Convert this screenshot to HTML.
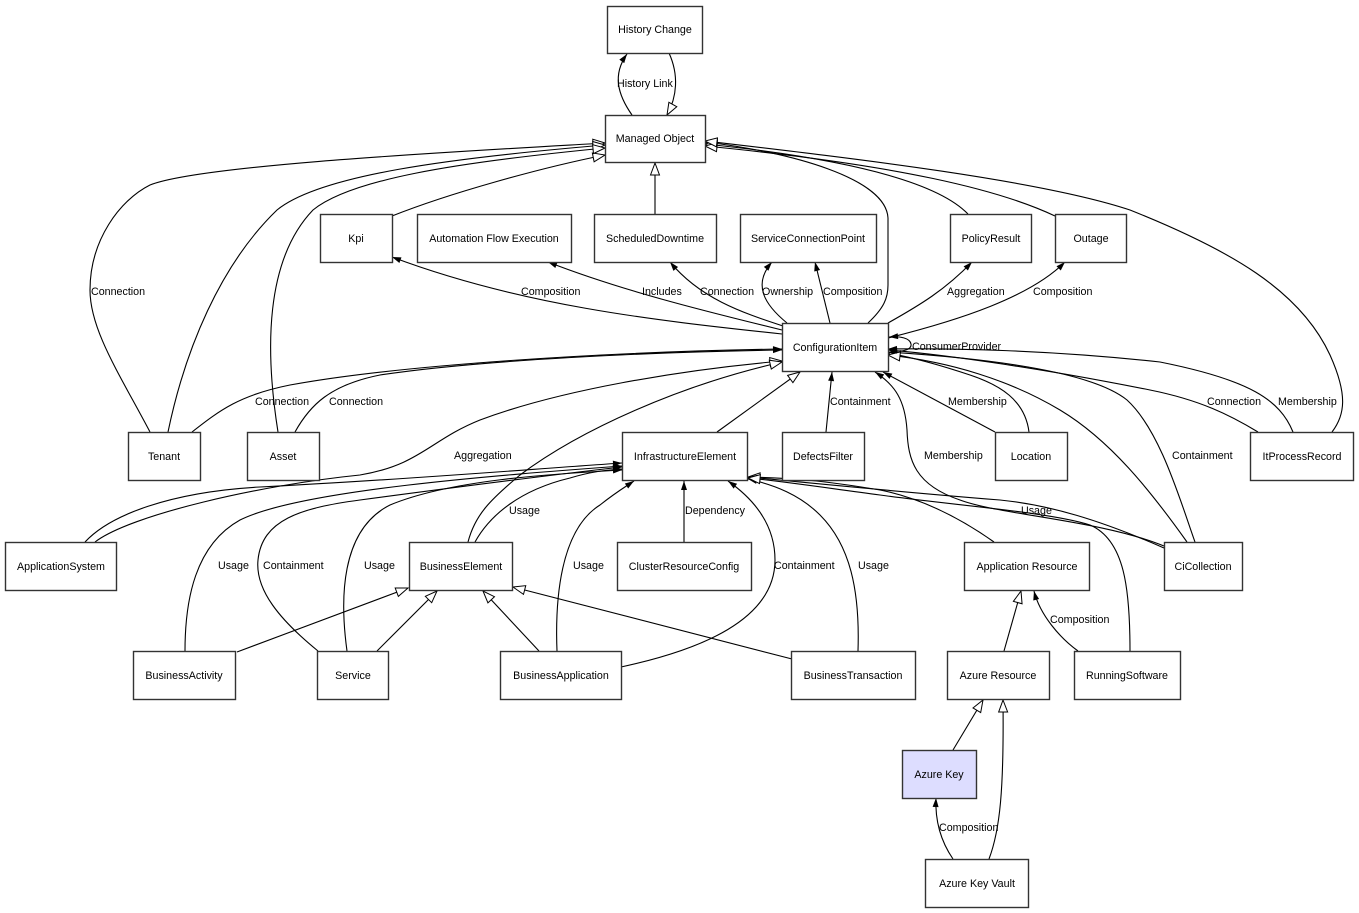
<!DOCTYPE html>
<html><head><meta charset="utf-8"><style>
html,body{margin:0;padding:0;background:#fff;}
svg{display:block;}
text{font-family:"Liberation Sans",Arial,sans-serif;font-size:10.7px;fill:#000;}
.n{text-anchor:middle;}
.b{fill:#fff;stroke:#333;stroke-width:1.4;}
.e{fill:none;stroke:#000;stroke-width:1.1;}
</style></head><body>
<svg width="1359" height="913" viewBox="0 0 1359 913" xmlns="http://www.w3.org/2000/svg">
<defs>
<marker id="f" markerWidth="10" markerHeight="8" refX="9" refY="4" orient="auto" markerUnits="userSpaceOnUse" style="overflow:visible"><path d="M0,1 L9,4 L0,7 z" fill="#000"/></marker>
<marker id="h" markerWidth="14" markerHeight="11" refX="13" refY="5.5" orient="auto" markerUnits="userSpaceOnUse" style="overflow:visible"><path d="M1,1 L13,5.5 L1,10 z" fill="#fff" stroke="#000" stroke-width="1"/></marker>
</defs>
<rect width="1359" height="913" fill="#fff"/>

<!-- edges to Managed Object -->
<path class="e" marker-end="url(#f)" d="M632,115 C618,95 612,75 627,54"/>
<path class="e" marker-end="url(#h)" d="M669,53 C679,75 677,97 667,115"/>
<path class="e" marker-end="url(#h)" d="M655,214 L655,163"/>
<path class="e" marker-end="url(#h)" d="M392,216 C450,193 540,168 605,155"/>
<path class="e" marker-end="url(#h)" d="M150,432 C120,375 90,330 90,290 C90,240 120,200 150,185 C200,165 450,152 605,143"/>
<path class="e" marker-end="url(#h)" d="M168,432 C185,350 220,265 277,210 C320,175 450,158 605,145"/>
<path class="e" marker-end="url(#h)" d="M278,432 C265,350 265,260 313,210 C350,180 450,163 605,148"/>
<path class="e" marker-end="url(#h)" d="M868,323 C884,308 888,298 888,285 L888,218 C886,178 790,152 705,142"/>
<path class="e" marker-end="url(#h)" d="M968,214 C940,185 860,160 705,144"/>
<path class="e" marker-end="url(#h)" d="M1055,216 C1000,190 900,165 705,146"/>
<path class="e" marker-end="url(#h)" d="M1332,432 C1345,415 1348,395 1330,355 C1300,290 1230,250 1130,210 C1040,180 850,158 705,141"/>

<!-- CI outgoing -->
<path class="e" marker-end="url(#f)" d="M782,334 C650,320 520,305 392,257"/>
<path class="e" marker-end="url(#f)" d="M782,330 C700,310 620,290 548,262"/>
<path class="e" marker-end="url(#f)" d="M783,326 C740,312 700,298 670,262"/>
<path class="e" marker-end="url(#f)" d="M787,323 C765,305 752,285 772,262"/>
<path class="e" marker-end="url(#f)" d="M830,323 L815,262"/>
<path class="e" marker-end="url(#f)" d="M888,323 C920,305 945,290 972,262"/>
<path class="e" marker-end="url(#f)" d="M888,338 C960,320 1030,297 1065,262"/>
<path class="e" marker-end="url(#f)" d="M888,352 C905,352 912,349 911,344 C910,338 900,336 889,337"/>

<!-- CI incoming -->
<path class="e" marker-end="url(#f)" d="M192,432 C220,410 240,395 290,385 C400,365 600,352 782,349"/>
<path class="e" marker-end="url(#f)" d="M295,432 C310,405 330,385 380,375 C480,360 650,352 782,350"/>
<path class="e" marker-end="url(#h)" d="M95,542 C130,515 260,485 360,475 C420,465 430,440 480,420 C560,390 680,370 782,361"/>
<path class="e" marker-end="url(#h)" d="M468,542 C475,515 490,500 520,475 C580,430 680,385 782,362"/>
<path class="e" marker-end="url(#h)" d="M717,432 L800,372"/>
<path class="e" marker-end="url(#f)" d="M826,432 L832,372"/>
<path class="e" marker-end="url(#f)" d="M995,432 L883,372"/>
<path class="e" marker-end="url(#h)" d="M1029,432 C1025,400 1000,385 970,375 C940,365 910,357 888,353"/>
<path class="e" marker-end="url(#f)" d="M1164,546 C1100,520 1000,515 960,500 C915,485 908,460 907,430 C905,400 895,385 875,372"/>
<path class="e" marker-end="url(#f)" d="M1195,542 C1180,500 1160,430 1127,400 C1090,370 980,358 888,352"/>
<path class="e" marker-end="url(#h)" d="M1187,542 C1150,490 1110,440 1060,410 C1010,380 950,362 888,355"/>
<path class="e" marker-end="url(#f)" d="M1258,432 C1230,415 1200,400 1150,390 C1050,370 950,355 888,350"/>
<path class="e" marker-end="url(#f)" d="M1293,432 C1280,400 1250,380 1160,362 C1050,350 950,348 888,349"/>

<!-- IE incoming -->
<path class="e" marker-end="url(#f)" d="M85,542 C110,515 170,492 260,487 C400,480 520,470 622,463"/>
<path class="e" marker-end="url(#f)" d="M185,651 C185,600 195,545 240,520 C300,490 500,475 622,466"/>
<path class="e" marker-end="url(#f)" d="M318,651 C280,620 255,590 258,560 C262,520 300,508 360,500 C450,488 550,475 622,467"/>
<path class="e" marker-end="url(#f)" d="M347,651 C340,600 340,530 390,505 C450,480 550,474 622,470"/>
<path class="e" marker-end="url(#f)" d="M475,542 C490,515 520,490 570,478 C590,472 605,470 622,469"/>
<path class="e" marker-end="url(#f)" d="M557,651 C555,600 560,530 600,505 C615,493 625,487 634,481"/>
<path class="e" marker-end="url(#f)" d="M684,542 L684,481"/>
<path class="e" marker-end="url(#f)" d="M621,667 C700,650 775,620 775,560 C775,525 755,500 728,481"/>
<path class="e" marker-end="url(#f)" d="M858,651 C860,590 850,545 820,515 C800,495 775,485 748,479"/>
<path class="e" marker-end="url(#h)" d="M994,542 C970,525 930,500 880,490 C820,480 790,478 748,477"/>
<path class="e" marker-end="url(#f)" d="M1164,548 C1100,520 1050,505 1000,500 C900,492 800,482 748,477"/>
<path class="e" marker-end="url(#h)" d="M1130,651 C1130,590 1125,540 1090,525 C1050,512 950,505 880,495 C820,487 780,481 748,478"/>

<!-- others -->
<path class="e" marker-end="url(#h)" d="M1004,651 L1021,591"/>
<path class="e" marker-end="url(#f)" d="M1078,651 C1060,638 1040,615 1034,591"/>
<path class="e" marker-end="url(#h)" d="M953,750 L983,700"/>
<path class="e" marker-end="url(#h)" d="M989,859 C1000,830 1004,790 1003,700"/>
<path class="e" marker-end="url(#f)" d="M953,859 C940,840 935,820 936,798"/>
<path class="e" marker-end="url(#h)" d="M237,652 L408,588"/>
<path class="e" marker-end="url(#h)" d="M377,651 L437,591"/>
<path class="e" marker-end="url(#h)" d="M539,651 L483,591"/>
<path class="e" marker-end="url(#h)" d="M792,659 L513,587"/>

<!-- edge labels -->
<text x="617" y="87">History Link</text>
<text x="91" y="295">Connection</text>
<text x="521" y="295">Composition</text>
<text x="642" y="295">Includes</text>
<text x="700" y="295">Connection</text>
<text x="762" y="295">Ownership</text>
<text x="823" y="295">Composition</text>
<text x="947" y="295">Aggregation</text>
<text x="1033" y="295">Composition</text>
<text x="912" y="350">ConsumerProvider</text>
<text x="255" y="405">Connection</text>
<text x="329" y="405">Connection</text>
<text x="830" y="405">Containment</text>
<text x="948" y="405">Membership</text>
<text x="1207" y="405">Connection</text>
<text x="1278" y="405">Membership</text>
<text x="454" y="459">Aggregation</text>
<text x="924" y="459">Membership</text>
<text x="1172" y="459">Containment</text>
<text x="509" y="514">Usage</text>
<text x="685" y="514">Dependency</text>
<text x="1021" y="514">Usage</text>
<text x="218" y="569">Usage</text>
<text x="263" y="569">Containment</text>
<text x="364" y="569">Usage</text>
<text x="573" y="569">Usage</text>
<text x="774" y="569">Containment</text>
<text x="858" y="569">Usage</text>
<text x="1050" y="623">Composition</text>
<text x="939" y="831">Composition</text>

<!-- nodes -->
<rect class="b" x="607.5" y="6.5" width="95" height="47"/><text class="n" x="655" y="33">History Change</text>
<rect class="b" x="605.5" y="115.5" width="100" height="47"/><text class="n" x="655" y="142">Managed Object</text>
<rect class="b" x="320.5" y="214.5" width="72" height="48"/><text class="n" x="356" y="242">Kpi</text>
<rect class="b" x="417.5" y="214.5" width="154" height="48"/><text class="n" x="494" y="242">Automation Flow Execution</text>
<rect class="b" x="594.5" y="214.5" width="122" height="48"/><text class="n" x="655" y="242">ScheduledDowntime</text>
<rect class="b" x="740.5" y="214.5" width="136" height="48"/><text class="n" x="808" y="242">ServiceConnectionPoint</text>
<rect class="b" x="950.5" y="214.5" width="81" height="48"/><text class="n" x="991" y="242">PolicyResult</text>
<rect class="b" x="1055.5" y="214.5" width="71" height="48"/><text class="n" x="1091" y="242">Outage</text>
<rect class="b" x="782.5" y="323.5" width="106" height="48"/><text class="n" x="835" y="351">ConfigurationItem</text>
<rect class="b" x="128.5" y="432.5" width="72" height="48"/><text class="n" x="164" y="460">Tenant</text>
<rect class="b" x="247.5" y="432.5" width="72" height="48"/><text class="n" x="283" y="460">Asset</text>
<rect class="b" x="622.5" y="432.5" width="125" height="48"/><text class="n" x="685" y="460">InfrastructureElement</text>
<rect class="b" x="782.5" y="432.5" width="82" height="48"/><text class="n" x="823" y="460">DefectsFilter</text>
<rect class="b" x="995.5" y="432.5" width="72" height="48"/><text class="n" x="1031" y="460">Location</text>
<rect class="b" x="1250.5" y="432.5" width="103" height="48"/><text class="n" x="1302" y="460">ItProcessRecord</text>
<rect class="b" x="5.5" y="542.5" width="111" height="48"/><text class="n" x="61" y="570">ApplicationSystem</text>
<rect class="b" x="409.5" y="542.5" width="103" height="48"/><text class="n" x="461" y="570">BusinessElement</text>
<rect class="b" x="617.5" y="542.5" width="134" height="48"/><text class="n" x="684" y="570">ClusterResourceConfig</text>
<rect class="b" x="964.5" y="542.5" width="125" height="48"/><text class="n" x="1027" y="570">Application Resource</text>
<rect class="b" x="1164.5" y="542.5" width="78" height="48"/><text class="n" x="1203" y="570">CiCollection</text>
<rect class="b" x="133.5" y="651.5" width="102" height="48"/><text class="n" x="184" y="679">BusinessActivity</text>
<rect class="b" x="317.5" y="651.5" width="71" height="48"/><text class="n" x="353" y="679">Service</text>
<rect class="b" x="500.5" y="651.5" width="121" height="48"/><text class="n" x="561" y="679">BusinessApplication</text>
<rect class="b" x="791.5" y="651.5" width="124" height="48"/><text class="n" x="853" y="679">BusinessTransaction</text>
<rect class="b" x="947.5" y="651.5" width="102" height="48"/><text class="n" x="998" y="679">Azure Resource</text>
<rect class="b" x="1074.5" y="651.5" width="106" height="48"/><text class="n" x="1127" y="679">RunningSoftware</text>
<rect class="b" x="902.5" y="750.5" width="74" height="48" style="fill:#ddddff"/><text class="n" x="939" y="778">Azure Key</text>
<rect class="b" x="925.5" y="859.5" width="103" height="48"/><text class="n" x="977" y="887">Azure Key Vault</text>
</svg>
</body></html>
